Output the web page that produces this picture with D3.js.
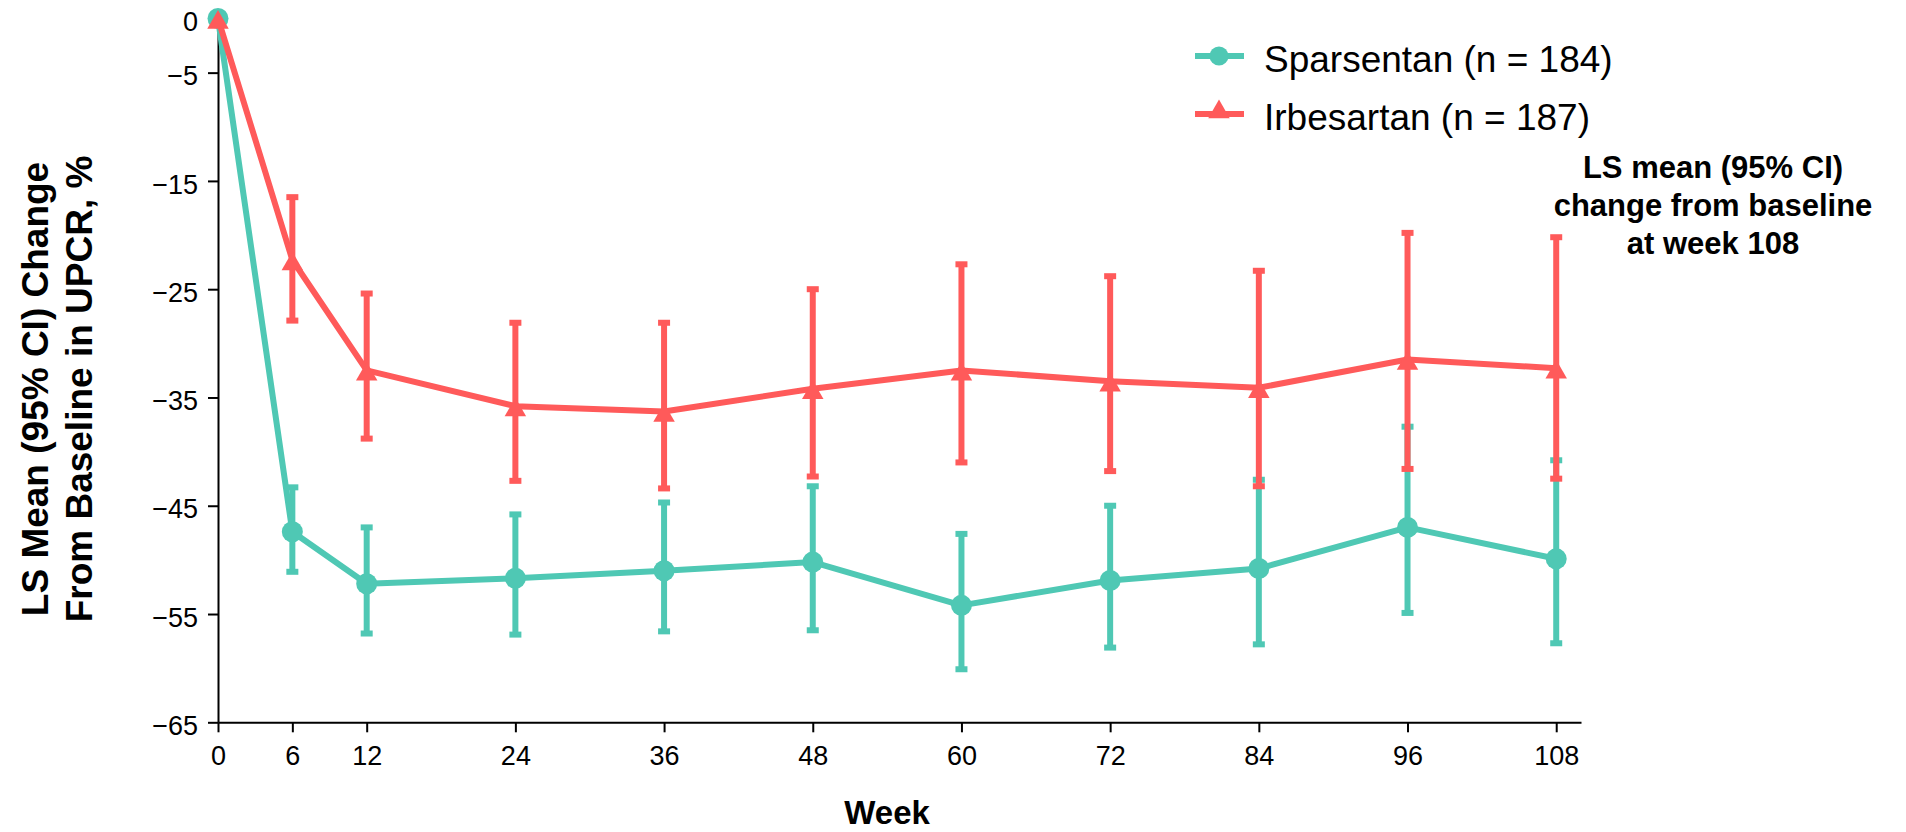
<!DOCTYPE html>
<html>
<head>
<meta charset="utf-8">
<script src="https://cdn.jsdelivr.net/npm/d3@7"></script>
<style>
  html, body { margin: 0; padding: 0; background: #fff; }
  svg { display: block; }
  text { font-family: "Liberation Sans", Arial, sans-serif; fill: #000; }
</style>
</head>
<body>
<script>
// ---------- data ----------
const weeks = [0, 6, 12, 24, 36, 48, 60, 72, 84, 96, 108];
const xTicks = [0, 6, 12, 24, 36, 48, 60, 72, 84, 96, 108];
const yTicks = [0, -5, -15, -25, -35, -45, -55, -65];

const sparsentanMean  = [0, -47.4, -52.2, -51.7, -51.0, -50.2, -54.2, -51.9, -50.8, -47.0, -49.9];
const sparsentanLower = [null, -51.1, -56.8, -56.9, -56.6, -56.5, -60.1, -58.1, -57.8, -54.9, -57.7];
const sparsentanUpper = [null, -43.3, -47.0, -45.8, -44.7, -43.2, -47.6, -45.0, -42.6, -37.7, -40.8];

const irbesartanMean  = [0, -22.3, -32.5, -35.8, -36.3, -34.2, -32.5, -33.5, -34.1, -31.5, -32.3];
const irbesartanLower = [null, -27.9, -38.8, -42.7, -43.4, -42.3, -41.0, -41.8, -43.2, -41.6, -42.5];
const irbesartanUpper = [null, -16.5, -25.4, -28.1, -28.1, -25.0, -22.7, -23.8, -23.3, -19.8, -20.2];

const seriesNames = ["Sparsentan (n = 184)", "Irbesartan (n = 187)"];
const annotationLines = ["LS mean (95% CI)", "change from baseline", "at week 108"];

// ---------- layout ----------
const W = 1906, H = 832;
const teal = "#4FC8B4", red = "#FF5A5A";

const svg = d3.select("body").append("svg").attr("width", W).attr("height", H);

const x = d3.scaleLinear().domain([0, 110]).range([218, 1581]);
const y = d3.scaleLinear().domain([0, -65]).range([18.5, 722.3]);

// axes
const xAxis = svg.append("g").attr("transform", `translate(0,${y(-65)})`)
  .call(d3.axisBottom(x).tickValues(xTicks).tickSize(10).tickSizeOuter(0).tickPadding(14));
const yAxis = svg.append("g").attr("transform", `translate(${x(0)},0)`)
  .call(d3.axisLeft(y).tickValues(yTicks).tickSize(10).tickSizeOuter(0)
        .tickFormat(d => d === 0 ? "0" : "\u2212" + Math.abs(d)).tickPadding(10));

[xAxis, yAxis].forEach(g => {
  g.select(".domain").attr("stroke", "#000").attr("stroke-width", 2);
  g.selectAll(".tick line").attr("stroke", "#000").attr("stroke-width", 2);
  g.selectAll(".tick text").style("font-family", "'Liberation Sans', Arial, sans-serif")
    .style("font-size", "27px").attr("fill", "#000");
});
yAxis.selectAll(".tick text").attr("dy", "0.45em");
xAxis.selectAll(".tick text").attr("dy", "0.71em");

// axis titles
svg.append("text").attr("x", x(54)).attr("y", 824)
  .attr("text-anchor", "middle").style("font-weight", "bold").style("font-size", "33px")
  .text("Week");

const yt = svg.append("g").attr("transform", `translate(0,389) rotate(-90)`);
yt.append("text").attr("x", 0).attr("y", 48).attr("text-anchor", "middle")
  .style("font-weight", "bold").style("font-size", "37px").text("LS Mean (95% CI) Change");
yt.append("text").attr("x", 0).attr("y", 92).attr("text-anchor", "middle")
  .style("font-weight", "bold").style("font-size", "37px").text("From Baseline in UPCR, %");

// series drawing
function build(mean, lower, upper) {
  return weeks.map((w, i) => ({ w, m: mean[i], lo: lower[i], hi: upper[i] }));
}
const series = [
  { data: build(sparsentanMean, sparsentanLower, sparsentanUpper), color: teal, shape: "circle" },
  { data: build(irbesartanMean, irbesartanLower, irbesartanUpper), color: red, shape: "triangle" }
];

const line = d3.line().x(d => x(d.w)).y(d => y(d.m));
const tri = d3.symbol().type(d3.symbolTriangle).size(200);

series.forEach(s => {
  const g = svg.append("g");
  const eb = s.data.filter(d => d.lo !== null);
  g.selectAll("line.bar").data(eb).join("line")
    .attr("x1", d => x(d.w)).attr("x2", d => x(d.w))
    .attr("y1", d => y(d.hi)).attr("y2", d => y(d.lo))
    .attr("stroke", s.color).attr("stroke-width", 6);
  ["hi", "lo"].forEach(k => {
    g.selectAll("rect.cap" + k).data(eb).join("rect")
      .attr("x", d => x(d.w) - 6).attr("y", d => y(d[k]) - 3)
      .attr("width", 12).attr("height", 6).attr("fill", s.color);
  });
  g.append("path").datum(s.data).attr("d", line)
    .attr("fill", "none").attr("stroke", s.color).attr("stroke-width", 6)
    .attr("stroke-linejoin", "round");
  if (s.shape === "circle") {
    g.selectAll("circle").data(s.data).join("circle")
      .attr("cx", d => x(d.w)).attr("cy", d => y(d.m)).attr("r", 10.5).attr("fill", s.color);
  } else {
    g.selectAll("path.tri").data(s.data).join("path").attr("class", "tri")
      .attr("d", tri).attr("transform", d => `translate(${x(d.w)},${y(d.m) + 4})`)
      .attr("fill", s.color);
  }
});

// legend
const legend = svg.append("g");
const legendRows = [{ yc: 56, base: 72 }, { yc: 114, base: 130 }];
series.forEach((s, i) => {
  const r = legendRows[i];
  legend.append("line").attr("x1", 1195).attr("x2", 1244).attr("y1", r.yc).attr("y2", r.yc)
    .attr("stroke", s.color).attr("stroke-width", 6);
  if (s.shape === "circle") {
    legend.append("circle").attr("cx", 1219).attr("cy", r.yc).attr("r", 9.5).attr("fill", s.color);
  } else {
    legend.append("path").attr("d", tri).attr("transform", `translate(1219,${r.yc - 2})`).attr("fill", s.color);
  }
  legend.append("text").attr("x", 1264).attr("y", r.base).style("font-size", "37px").text(seriesNames[i]);
});

// annotation
annotationLines.forEach((t, i) => {
  svg.append("text").attr("x", 1713).attr("y", 178 + i * 38).attr("text-anchor", "middle")
    .style("font-weight", "bold").style("font-size", "31px").text(t);
});
</script>
</body>
</html>
